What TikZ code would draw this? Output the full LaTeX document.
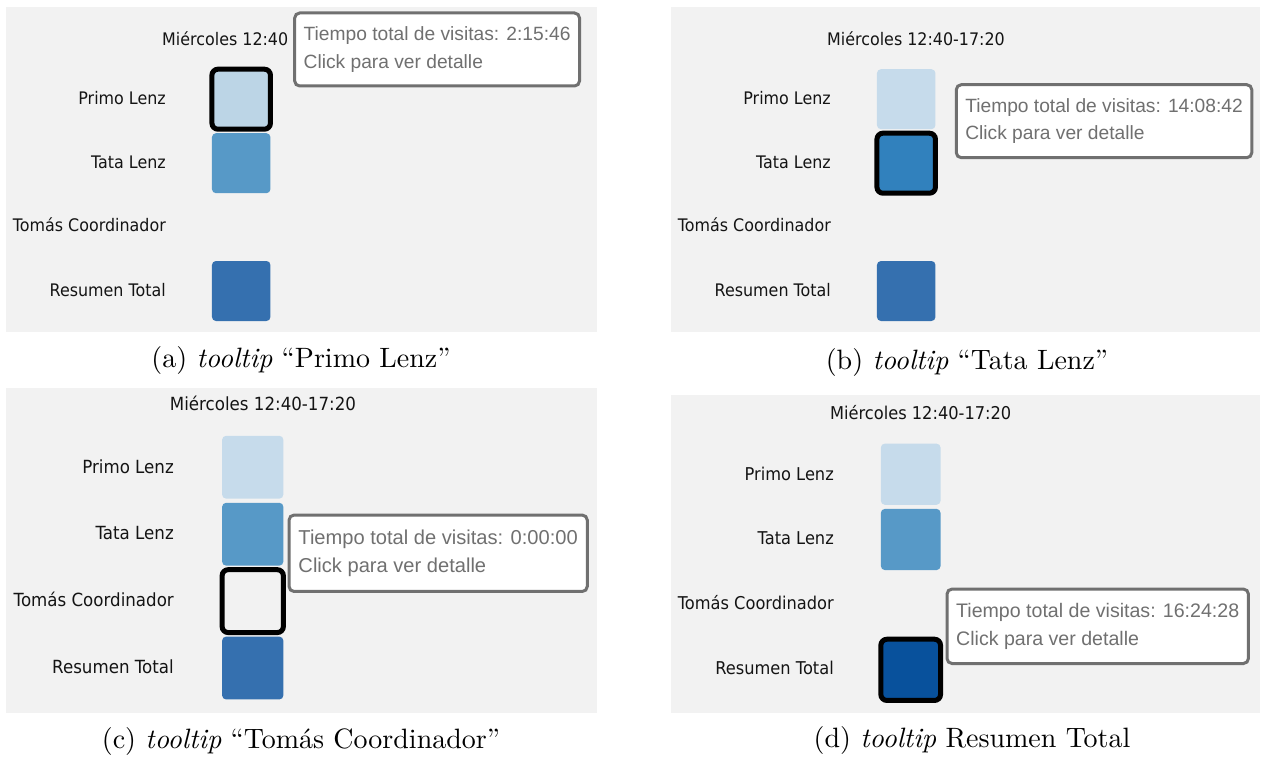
\documentclass[tikz,border=0pt]{standalone}
\usepackage{fontspec}
\newfontfamily\labfont[FakeStretch=0.92]{DejaVu Sans}
\newfontfamily\tipfont{Liberation Sans}
\newfontfamily\capfont{lmroman10-regular.otf}[ItalicFont=lmroman10-italic.otf]
\definecolor{panelbg}{HTML}{F2F2F2}
\definecolor{cPrimo}{HTML}{C6DBEB}
\definecolor{cPrimoH}{HTML}{BCD5E6}
\definecolor{cTata}{HTML}{5799C7}
\definecolor{cTataH}{HTML}{3181BD}
\definecolor{cRes}{HTML}{3570AF}
\definecolor{cResH}{HTML}{08519C}
\definecolor{tipborder}{HTML}{707070}
\definecolor{tiptext}{HTML}{707070}
\definecolor{labtext}{HTML}{141414}
\tikzset{
  panel/.style={fill=panelbg, draw=none},
  lab/.style={anchor=base east, inner sep=0, text=labtext, font=\labfont\fontsize{17.3}{20}\selectfont},
  ttl/.style={anchor=base, inner sep=0, text=labtext, font=\labfont\fontsize{17.3}{20}\selectfont},
  cell/.style={draw=none, rounded corners=4, minimum width=58.5, minimum height=60, inner sep=0},
  hot/.style={cell, draw=black, line width=5, rounded corners=6},
  tip/.style={anchor=north west, draw=tipborder, line width=3, fill=white, rounded corners=5,
    align=left, inner xsep=9, inner ysep=0, minimum height=73, text=tiptext,
    font=\tipfont\fontsize{19.2}{27.6}\selectfont},
  captext/.style={anchor=base, inner sep=0, font=\capfont\fontsize{28}{32}\selectfont}
}
\begin{document}
\begin{tikzpicture}[x=1pt,y=-1pt]
\useasboundingbox (0,0) rectangle (1262,765);
\fill[white] (0,0) rectangle (1262,765);

% backgrounds
\fill[panel] (6,7) rectangle (597,332);
\fill[panel] (671,7) rectangle (1260,332);
\fill[panel] (6,388) rectangle (597,713);
\fill[panel] (671,395) rectangle (1260,713);

% ---------- panel (a)
\begin{scope}
\node[ttl, anchor=base west] (aT) at (162,45.5) {Miércoles 12:40};
\node[lab] (aL1) at (166,105) {Primo Lenz};
\node[lab] (aL2) at (166,168) {Tata Lenz};
\node[lab] (aL3) at (166,232) {Tomás Coordinador};
\node[lab] (aL4) at (166,296) {Resumen Total};
\node[cell, fill=cTata] (aS2) at (241.2,163.2) {};
\node[cell, fill=cRes] (aS4) at (241.2,291) {};
\node[hot, fill=cPrimoH] (aS1) at (241.2,99.2) {};
\node[tip] (aTip) at (293.2,11.5) {Tiempo total de visitas: 2:15:46\\Click para ver detalle};
\end{scope}

% ---------- panel (b)
\begin{scope}[xshift=665]
\node[ttl] (bT) at (251,46) {Miércoles 12:40-17:20};
\node[lab] (bL1) at (166,105) {Primo Lenz};
\node[lab] (bL2) at (166,168) {Tata Lenz};
\node[lab] (bL3) at (166,232) {Tomás Coordinador};
\node[lab] (bL4) at (166,296) {Resumen Total};
\node[cell, fill=cPrimo] (bS1) at (241.2,99.2) {};
\node[cell, fill=cRes] (bS4) at (241.2,291) {};
\node[hot, fill=cTataH] (bS2) at (241.2,163.2) {};
\node[tip] (bTip) at (289.8,83.2) {Tiempo total de visitas: 14:08:42\\Click para ver detalle};
\end{scope}

% ---------- panel (c)
\begin{scope}[shift={(174,467)}, scale=1.047, transform shape, shift={(-166,-99)}]
\node[ttl] (cT) at (251,45.5) {Miércoles 12:40-17:20};
\node[lab] (cL1) at (166,105) {Primo Lenz};
\node[lab] (cL2) at (166,168) {Tata Lenz};
\node[lab] (cL3) at (166,232) {Tomás Coordinador};
\node[lab] (cL4) at (166,296) {Resumen Total};
\node[cell, fill=cPrimo] (cS1) at (241.2,99.2) {};
\node[cell, fill=cTata] (cS2) at (241.2,163.2) {};
\node[cell, fill=cRes] (cS4) at (241.2,291) {};
\node[hot, fill=panelbg] (cS3) at (241.2,227.1) {};
\node[tip] (cTip) at (274.4,143.4) {Tiempo total de visitas: 0:00:00\\Click para ver detalle};
\end{scope}

% ---------- panel (d)
\begin{scope}[shift={(834,474)}, scale=1.02, transform shape, shift={(-166,-99)}]
\node[ttl] (dT) at (251,45.5) {Miércoles 12:40-17:20};
\node[lab] (dL1) at (166,105) {Primo Lenz};
\node[lab] (dL2) at (166,168) {Tata Lenz};
\node[lab] (dL3) at (166,232) {Tomás Coordinador};
\node[lab] (dL4) at (166,296) {Resumen Total};
\node[cell, fill=cPrimo] (dS1) at (241.2,99.2) {};
\node[cell, fill=cTata] (dS2) at (241.2,163.2) {};
\node[hot, fill=cResH] (dS4) at (241.2,291) {};
\node[tip] (dTip) at (275.3,210.3) {Tiempo total de visitas: 16:24:28\\Click para ver detalle};
\end{scope}

% captions
\node[captext] (capA) at (301,367.3) {(a) \textit{tooltip} “Primo Lenz”};
\node[captext] (capB) at (967,369) {(b) \textit{tooltip} “Tata Lenz”};
\node[captext] (capC) at (301,748) {(c) \textit{tooltip} “Tomás Coordinador”};
\node[captext] (capD) at (972,747.5) {(d) \textit{tooltip} Resumen Total};
\end{tikzpicture}
\end{document}
